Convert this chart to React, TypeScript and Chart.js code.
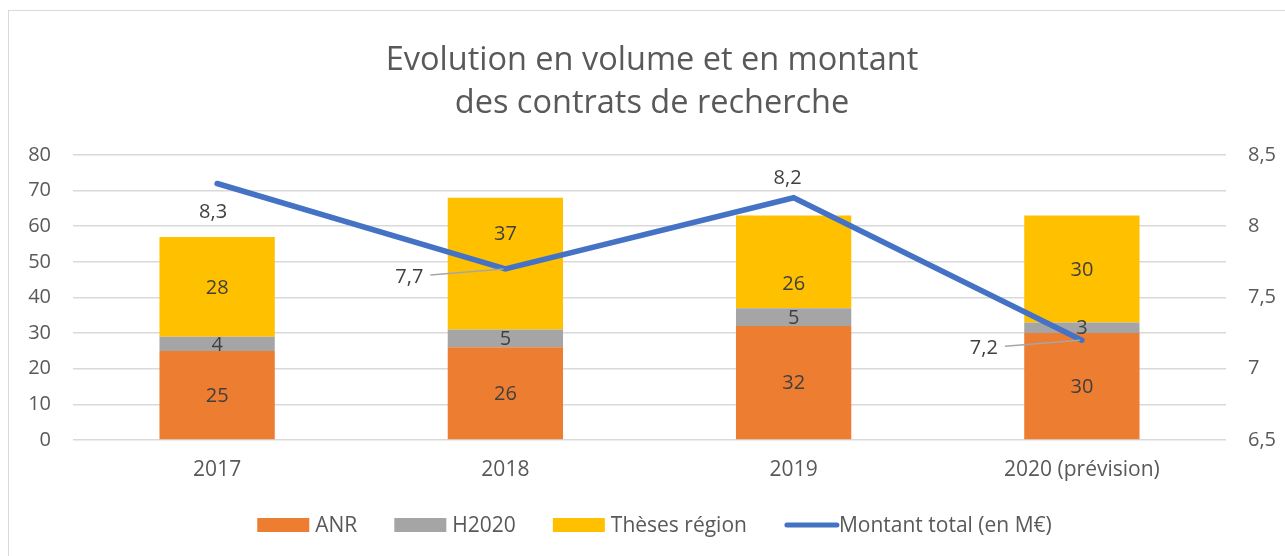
import React, { useEffect, useRef } from "react";
import { Chart, registerables } from "chart.js";

Chart.register(...registerables);

const categories = ["2017", "2018", "2019", "2020 (prévision)"];
const anr = [25, 26, 32, 30];
const h2020 = [4, 5, 5, 3];
const theses = [28, 37, 26, 30];
const montant = [8.3, 7.7, 8.2, 7.2];
const leftTicks = [0, 10, 20, 30, 40, 50, 60, 70, 80];
const rightTicks = [6.5, 7, 7.5, 8, 8.5];

const FONT = "'Open Sans', 'DejaVu Sans', sans-serif";
const fmt = (v: number) => String(v).replace(".", ",");

const labelPlugin = {
  id: "valueLabels",
  afterDatasetsDraw(chart: any) {
    const ctx = chart.ctx;
    const opts = chart.options.plugins.valueLabels;
    ctx.save();
    ctx.font = `20px ${FONT}`;
    ctx.fillStyle = "#404040";
    ctx.textAlign = "center";
    ctx.textBaseline = "middle";
    chart.data.datasets.forEach((ds: any, i: number) => {
      const meta = chart.getDatasetMeta(i);
      if (ds.type === "line") return;
      meta.data.forEach((el: any, j: number) => {
        const v = ds.data[j];
        const { x, y, base } = el.getProps(["x", "y", "base"], true);
        const shift = (opts.barShift[i] && opts.barShift[i][j]) || 0;
        ctx.fillText(fmt(v), x, (y + base) / 2 + 1 + shift);
      });
    });
    const li = chart.data.datasets.findIndex((d: any) => d.type === "line");
    const meta = chart.getDatasetMeta(li);
    const place = opts.linePlacement;
    meta.data.forEach((el: any, j: number) => {
      const p = place[j];
      const v = chart.data.datasets[li].data[j];
      const lx = el.x + p.dx;
      const ly = el.y + p.dy;
      if (p.leader) {
        ctx.strokeStyle = "#a6a6a6";
        ctx.lineWidth = 1.5;
        ctx.beginPath();
        ctx.moveTo(lx + 7, ly - 2);
        ctx.lineTo(el.x - 2, el.y);
        ctx.stroke();
        ctx.textAlign = "right";
      } else {
        ctx.textAlign = "center";
      }
      ctx.fillStyle = "#404040";
      ctx.fillText(fmt(v), lx, ly);
    });
    ctx.restore();
  },
  afterDraw(chart: any) {
    const ctx = chart.ctx;
    const opts = chart.options.plugins.valueLabels;
    ctx.save();
    ctx.font = `21px ${FONT}`;
    ctx.textBaseline = "middle";
    ctx.textAlign = "left";
    const boxW = 52;
    const boxH = 14;
    const gap = 6;
    const itemGap = 37;
    const items = chart.data.datasets.map((d: any) => ({
      text: d.label,
      color: d.type === "line" ? d.borderColor : d.backgroundColor,
      line: d.type === "line",
      w: boxW + gap + ctx.measureText(d.label).width,
    }));
    const total = items.reduce((a: number, it: any) => a + it.w, 0) + itemGap * (items.length - 1);
    let x = opts.legendCenterX - total / 2;
    const y = opts.legendY;
    items.forEach((it: any) => {
      let tx = x + boxW + gap;
      if (it.line) {
        ctx.strokeStyle = it.color;
        ctx.lineWidth = 5;
        ctx.lineCap = "round";
        ctx.beginPath();
        ctx.moveTo(x + 3, y);
        ctx.lineTo(x + boxW + 1, y);
        ctx.stroke();
        tx = x + boxW + 3;
      } else {
        ctx.fillStyle = it.color;
        ctx.fillRect(x, y - boxH / 2, boxW, boxH);
      }
      ctx.fillStyle = "#595959";
      ctx.fillText(it.text, tx, y + 1);
      x += it.w + itemGap;
    });
    ctx.restore();
  },
};

export default function App() {
  const ref = useRef<HTMLCanvasElement>(null);
  useEffect(() => {
    if (!ref.current) return;
    const chart = new Chart(ref.current, {
      type: "bar",
      data: {
        labels: categories,
        datasets: [
          {
            type: "bar",
            label: "ANR",
            data: anr,
            backgroundColor: "#ED7D31",
            yAxisID: "y",
            stack: "s",
            order: 2,
          },
          {
            type: "bar",
            label: "H2020",
            data: h2020,
            backgroundColor: "#A5A5A5",
            yAxisID: "y",
            stack: "s",
            order: 2,
          },
          {
            type: "bar",
            label: "Thèses région",
            data: theses,
            backgroundColor: "#FFC000",
            yAxisID: "y",
            stack: "s",
            order: 2,
          },
          {
            type: "line",
            label: "Montant total (en M€)",
            data: montant,
            borderColor: "#4472C4",
            backgroundColor: "#4472C4",
            borderWidth: 5.5,
            borderCapStyle: "round",
            pointRadius: 0,
            yAxisID: "y1",
            order: 1,
          } as any,
        ],
      },
      options: {
        animation: false,
        responsive: false,
        maintainAspectRatio: false,
        layout: { padding: 0 },
        datasets: { bar: { barPercentage: 0.4, categoryPercentage: 1 } },
        scales: {
          x: {
            stacked: true,
            grid: { display: false, drawTicks: false },
            border: { display: false },
            afterFit: (s: any) => {
              s.height = 129;
            },
            ticks: { color: "#595959", font: { family: FONT, size: 21 }, padding: 17 },
          },
          y: {
            stacked: true,
            position: "left",
            min: 0,
            max: 80,
            afterBuildTicks: (s: any) => {
              s.ticks = leftTicks.map((v) => ({ value: v }));
            },
            afterFit: (s: any) => {
              s.width = 64;
            },
            grid: { color: "#d9d9d9", lineWidth: 1.5, drawTicks: false },
            border: { display: false },
            ticks: { color: "#595959", font: { family: FONT, size: 20 }, padding: 22 },
          },
          y1: {
            position: "right",
            min: 6.5,
            max: 8.5,
            afterBuildTicks: (s: any) => {
              s.ticks = rightTicks.map((v) => ({ value: v }));
            },
            afterFit: (s: any) => {
              s.width = 69;
            },
            grid: { display: false, drawTicks: false },
            border: { display: false },
            ticks: {
              color: "#595959",
              font: { family: FONT, size: 20 },
              padding: 22,
              callback: (v: any) => fmt(Number(v)),
            },
          },
        },
        plugins: {
          title: {
            display: true,
            text: ["Evolution en volume et en montant", "des contrats de recherche"],
            color: "#595959",
            font: { family: FONT, size: 32.5, weight: "normal", lineHeight: 1.323 },
            padding: { top: 28, bottom: 30 },
          },
          legend: { display: false },
          tooltip: { enabled: false },
          valueLabels: {
            barShift: { 2: [0, -30, 21, 0] },
            linePlacement: [
              { dx: -4, dy: 29, leader: false },
              { dx: -82, dy: 8, leader: true },
              { dx: -6, dy: -19, leader: false },
              { dx: -84, dy: 8, leader: true },
            ],
            legendCenterX: 647,
            legendY: 514,
          },
        } as any,
      },
      plugins: [labelPlugin],
    });
    return () => chart.destroy();
  }, []);
  return (
    <div style={{ position: "fixed", inset: 0, overflow: "hidden", background: "#fff" }}>
      <div
        style={{
          position: "absolute",
          left: 8,
          top: 10,
          width: 1288,
          height: 560,
          border: "1px solid #d9d9d9",
          boxSizing: "border-box",
        }}
      >
        <canvas ref={ref} width={1286} height={558} style={{ display: "block" }} />
      </div>
    </div>
  );
}
